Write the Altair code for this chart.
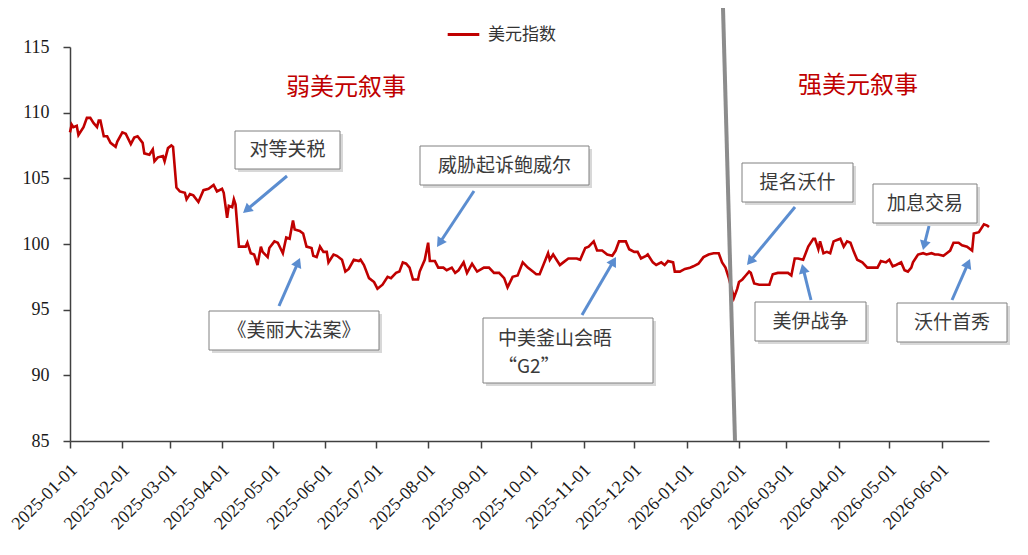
import math
import altair as alt
import pandas as pd

# ---------------- data ----------------
series_name = "美元指数"

dates = [
    "2025-01-01", "2025-01-02", "2025-01-03", "2025-01-05", "2025-01-06", "2025-01-09",
    "2025-01-11", "2025-01-13", "2025-01-15", "2025-01-17", "2025-01-18", "2025-01-19",
    "2025-01-21", "2025-01-23", "2025-01-25", "2025-01-28", "2025-01-29", "2025-02-01",
    "2025-02-03", "2025-02-06", "2025-02-08", "2025-02-10", "2025-02-13", "2025-02-14",
    "2025-02-17", "2025-02-19", "2025-02-20", "2025-02-22", "2025-02-25", "2025-02-26",
    "2025-02-28", "2025-03-02", "2025-03-03", "2025-03-05", "2025-03-07", "2025-03-10",
    "2025-03-11", "2025-03-13", "2025-03-15", "2025-03-18", "2025-03-21", "2025-03-24",
    "2025-03-27", "2025-03-29", "2025-04-01", "2025-04-02", "2025-04-04", "2025-04-05",
    "2025-04-07", "2025-04-08", "2025-04-09", "2025-04-11", "2025-04-15", "2025-04-16",
    "2025-04-18", "2025-04-20", "2025-04-22", "2025-04-24", "2025-04-25", "2025-04-28",
    "2025-04-29", "2025-05-02", "2025-05-04", "2025-05-07", "2025-05-09", "2025-05-11",
    "2025-05-13", "2025-05-14", "2025-05-17", "2025-05-19", "2025-05-21", "2025-05-24",
    "2025-05-25", "2025-05-27", "2025-05-29", "2025-05-31", "2025-06-02", "2025-06-03",
    "2025-06-06", "2025-06-08", "2025-06-11", "2025-06-13", "2025-06-15", "2025-06-18",
    "2025-06-21", "2025-06-22", "2025-06-24", "2025-06-27", "2025-06-30", "2025-07-02",
    "2025-07-05", "2025-07-08", "2025-07-10", "2025-07-13", "2025-07-15", "2025-07-17",
    "2025-07-19", "2025-07-21", "2025-07-23", "2025-07-26", "2025-07-27", "2025-07-30",
    "2025-08-01", "2025-08-02", "2025-08-05", "2025-08-07", "2025-08-10", "2025-08-12",
    "2025-08-15", "2025-08-17", "2025-08-19", "2025-08-22", "2025-08-24", "2025-08-27",
    "2025-08-30", "2025-09-03", "2025-09-06", "2025-09-09", "2025-09-12", "2025-09-15",
    "2025-09-17", "2025-09-20", "2025-09-23", "2025-09-26", "2025-09-29", "2025-10-02",
    "2025-10-04", "2025-10-06", "2025-10-11", "2025-10-12", "2025-10-14", "2025-10-18",
    "2025-10-20", "2025-10-23", "2025-10-28", "2025-10-30", "2025-11-02", "2025-11-04",
    "2025-11-07", "2025-11-09", "2025-11-12", "2025-11-15", "2025-11-18", "2025-11-20",
    "2025-11-22", "2025-11-26", "2025-11-28", "2025-12-01", "2025-12-03", "2025-12-05",
    "2025-12-08", "2025-12-09", "2025-12-12", "2025-12-14", "2025-12-17", "2025-12-19",
    "2025-12-21", "2025-12-24", "2025-12-25", "2025-12-28", "2025-12-31", "2026-01-03",
    "2026-01-05", "2026-01-08", "2026-01-11", "2026-01-14", "2026-01-17", "2026-01-20",
    "2026-01-22", "2026-01-24", "2026-01-26", "2026-01-29", "2026-01-31", "2026-02-01",
    "2026-02-03", "2026-02-05", "2026-02-07", "2026-02-08", "2026-02-10", "2026-02-13",
    "2026-02-16", "2026-02-19", "2026-02-21", "2026-02-24", "2026-02-27", "2026-03-02",
    "2026-03-04", "2026-03-06", "2026-03-08", "2026-03-11", "2026-03-14", "2026-03-17",
    "2026-03-18", "2026-03-20", "2026-03-21", "2026-03-23", "2026-03-25", "2026-03-27",
    "2026-03-29", "2026-03-31", "2026-04-02", "2026-04-04", "2026-04-06", "2026-04-08",
    "2026-04-10", "2026-04-12", "2026-04-15", "2026-04-18", "2026-04-21", "2026-04-24",
    "2026-04-26", "2026-04-29", "2026-05-01", "2026-05-03", "2026-05-05", "2026-05-08",
    "2026-05-10", "2026-05-12", "2026-05-14", "2026-05-15", "2026-05-18", "2026-05-21",
    "2026-05-23", "2026-05-26", "2026-05-28", "2026-05-30", "2026-06-02", "2026-06-04",
    "2026-06-06", "2026-06-08", "2026-06-11", "2026-06-13", "2026-06-16", "2026-06-19",
    "2026-06-20", "2026-06-23", "2026-06-26", "2026-06-28", "2026-06-29",
]

dxy = [
    108.5, 109.1, 108.9, 109.0, 108.3, 108.9,
    109.6, 109.6, 109.2, 108.9, 109.4, 109.4,
    108.2, 108.2, 107.7, 107.4, 107.8, 108.5,
    108.4, 107.6, 108.1, 108.2, 107.7, 106.9,
    106.8, 107.2, 106.3, 106.6, 106.7, 106.3,
    107.3, 107.5, 107.4, 104.3, 104.0, 103.9,
    103.4, 103.8, 103.7, 103.2, 104.1, 104.2,
    104.5, 104.0, 104.2, 103.9, 102.0, 102.9,
    102.8, 103.4, 103.0, 99.8, 99.8, 100.1,
    99.3, 99.2, 98.4, 99.8, 99.4, 99.0,
    99.7, 100.2, 100.1, 99.3, 100.5, 100.4,
    101.8, 101.1, 101.0, 100.8, 99.8, 99.7,
    99.1, 99.0, 99.8, 99.4, 99.4, 98.6,
    99.2, 99.1, 98.8, 97.9, 98.1, 98.8,
    98.7, 98.8, 98.4, 97.4, 97.1, 96.6,
    96.9, 97.5, 97.4, 97.8, 97.9, 98.6,
    98.5, 98.2, 97.3, 97.3, 97.9, 98.8,
    100.1, 98.7, 98.7, 98.2, 98.2, 98.0,
    98.2, 97.8, 98.0, 98.6, 97.8, 98.5,
    97.9, 98.2, 98.2, 97.8, 97.8, 97.4,
    96.7, 97.5, 97.6, 98.6, 98.2, 97.9,
    97.7, 97.7, 99.3, 98.8, 99.2, 98.4,
    98.6, 98.9, 98.9, 98.8, 99.7, 99.8,
    100.2, 99.5, 99.5, 99.2, 99.1, 99.5,
    100.2, 100.2, 99.6, 99.4, 99.4, 98.9,
    99.1, 99.2, 98.6, 98.4, 98.6, 98.4,
    98.7, 98.6, 97.9, 97.9, 98.1, 98.2,
    98.3, 98.5, 99.0, 99.2, 99.3, 99.3,
    98.6, 98.2, 97.4, 95.9, 96.6, 97.1,
    97.3, 97.6, 97.9, 97.8, 97.0, 96.9,
    96.9, 96.9, 97.7, 97.8, 97.8, 97.8,
    97.6, 98.9, 98.9, 98.8, 99.8, 100.4,
    100.4, 99.6, 100.2, 99.3, 99.4, 99.3,
    100.2, 100.3, 100.4, 99.8, 100.2, 100.1,
    99.4, 98.8, 98.6, 98.2, 98.2, 98.2,
    98.7, 98.6, 98.8, 98.3, 98.4, 98.6,
    98.0, 97.9, 98.2, 98.6, 99.2, 99.3,
    99.2, 99.3, 99.2, 99.2, 99.1, 99.3,
    99.5, 100.1, 100.1, 99.9, 99.8, 99.5,
    100.8, 100.9, 101.5, 101.4, 101.3,
]

tick_labels = [
    "2025-01-01", "2025-02-01", "2025-03-01", "2025-04-01", "2025-05-01", "2025-06-01",
    "2025-07-01", "2025-08-01", "2025-09-01", "2025-10-01", "2025-11-01", "2025-12-01",
    "2026-01-01", "2026-02-01", "2026-03-01", "2026-04-01", "2026-05-01", "2026-06-01",
]
x_domain = ["2025-01-01", "2026-06-29"]
y_ticks = [85, 90, 95, 100, 105, 110, 115]
y_domain = [85, 115]

narratives = ["弱美元叙事", "强美元叙事"]
events = ["对等关税", "《美丽大法案》", "威胁起诉鲍威尔", "中美釜山会晤\n“G2”",
          "提名沃什", "美伊战争", "加息交易", "沃什首秀"]

# ---------------- layout (pixels, page coordinates) ----------------
OX, OY = 70, 47          # plot origin on page
W, H = 919, 394

RED = "#C00000"
ARROW = "#5B8DD0"
CJK = "Noto Sans CJK SC"
SERIF = "Liberation Serif"

# box (x0, y0, x1, y1), text anchor, align, arrow tail, arrow head
event_layout = [
    ((235, 131, 340, 169), (287.5, 150), "center", (287, 176), (243, 213)),
    ((209, 311, 379, 350), (294, 330.5), "center", (279, 306), (300, 258)),
    ((420, 146, 589, 185), (504.5, 165.5), "center", (474, 191), (437, 247)),
    ((483, 318, 653, 383), (498, 339), "left", (582, 315), (616, 257)),
    ((742, 163, 853, 202), (797.5, 182.5), "center", (795, 207), (747, 265)),
    ((755, 302, 866, 341), (810.5, 321.5), "center", (811, 300), (802, 264)),
    ((873, 184, 977, 223), (925, 203.5), "center", (929, 226), (923, 250)),
    ((897, 303, 1007, 342), (952, 322.5), "center", (952, 300), (970, 259)),
]
narrative_layout = [(346, 88), (858, 86)]


def px(v):
    return v - OX


def py(v):
    return v - OY


def to_dt(s):
    y, m, d = (int(p) for p in s.split("-"))
    return alt.DateTime(year=y, month=m, date=d, utc=True)


# ---------------- main line ----------------
df = pd.DataFrame({"date": dates, "value": dxy, "series": series_name})

line = alt.Chart(df).mark_line(strokeWidth=2.6, interpolate="linear").encode(
    x=alt.X(
        "date:T",
        scale=alt.Scale(type="utc", domain=[to_dt(s) for s in x_domain]),
        axis=alt.Axis(
            values=[to_dt(s) for s in tick_labels],
            labelExpr="utcFormat(datum.value, '%Y-%m-%d')",
            labelAngle=-45,
            labelAlign="right",
            labelBaseline="middle",
            labelFont=SERIF,
            labelFontSize=18,
            labelColor="#1a1a1a",
            labelPadding=19,
            labelOffset=4,
            labelOverlap=False,
            labelFlush=False,
            tickSize=7,
            tickColor="#404040",
            tickWidth=1.5,
            domainColor="#404040",
            domainWidth=1.5,
            grid=False,
            title=None,
        ),
    ),
    y=alt.Y(
        "value:Q",
        scale=alt.Scale(domain=y_domain, nice=False, zero=False),
        axis=alt.Axis(
            values=y_ticks,
            labelFont=SERIF,
            labelFontSize=18,
            labelColor="#1a1a1a",
            labelPadding=14,
            tickSize=7,
            tickColor="#404040",
            tickWidth=1.5,
            domainColor="#404040",
            domainWidth=1.5,
            grid=False,
            title=None,
        ),
    ),
    color=alt.Color(
        "series:N",
        scale=alt.Scale(domain=[series_name], range=[RED]),
        legend=alt.Legend(
            title=None,
            orient="none",
            legendX=px(446),
            legendY=py(33) - 16,
            symbolType="stroke",
            symbolStrokeWidth=3,
            symbolSize=1000,
            labelFont=CJK,
            labelFontSize=17,
            labelColor="#333333",
            labelOffset=7,
            padding=0,
        ),
    ),
)

base = alt.Chart(pd.DataFrame({"k": [0]}))
layers = [line]

# divider between the two narratives
layers.append(
    base.mark_rule(color="#8c8c8c", strokeWidth=4).encode(
        x=alt.value(px(723)), x2=alt.value(px(735)),
        y=alt.value(py(8)), y2=alt.value(py(441)),
    )
)

# arrows
for box, anchor, align, tail, head in event_layout:
    tx, ty = px(tail[0]), py(tail[1])
    hx, hy = px(head[0]), py(head[1])
    dx, dy = hx - tx, hy - ty
    L = math.hypot(dx, dy)
    ux, uy = dx / L, dy / L
    size = 120
    r = math.sqrt(size) / 2
    h = math.sqrt(3) / 2 * r
    cx, cy = hx - ux * h, hy - uy * h
    ang = math.degrees(math.atan2(dx, -dy)) % 360
    layers.append(
        base.mark_rule(color=ARROW, strokeWidth=3).encode(
            x=alt.value(tx), y=alt.value(ty), x2=alt.value(cx), y2=alt.value(cy)
        )
    )
    layers.append(
        base.mark_point(shape="triangle-up", filled=True, size=size, angle=ang,
                        color=ARROW, opacity=1, strokeWidth=0).encode(
            x=alt.value(cx), y=alt.value(cy)
        )
    )

# boxes with texts
for (box, anchor, align, tail, head), label in zip(event_layout, events):
    x0, y0, x1, y1 = box
    layers.append(
        base.mark_rect(color="#c8c8c8", opacity=0.7).encode(
            x=alt.value(px(x0) + 3), x2=alt.value(px(x1) + 3),
            y=alt.value(py(y0) + 3), y2=alt.value(py(y1) + 3),
        )
    )
    layers.append(
        base.mark_rect(fill="white", stroke="#808080", strokeWidth=1).encode(
            x=alt.value(px(x0)), x2=alt.value(px(x1)),
            y=alt.value(py(y0)), y2=alt.value(py(y1)),
        )
    )
    layers.append(
        base.mark_text(font=CJK, fontSize=19, color="#3a3a3a", align=align,
                       baseline="middle", lineBreak="\n", lineHeight=28).encode(
            x=alt.value(px(anchor[0])), y=alt.value(py(anchor[1])),
            text=alt.value(label),
        )
    )

# narrative titles
for label, (nx, ny) in zip(narratives, narrative_layout):
    layers.append(
        base.mark_text(font=CJK, fontSize=24, color=RED, align="center",
                       baseline="middle").encode(
            x=alt.value(px(nx)), y=alt.value(py(ny)), text=alt.value(label)
        )
    )

chart = alt.layer(*layers).properties(
    width=W,
    height=H,
    autosize=alt.AutoSizeParams(type="none"),
    padding={"left": OX - 8, "top": OY - 8, "right": 30, "bottom": 100},
    background="white",
).configure_view(strokeWidth=0)

chart.save("out.html", embed_options={"renderer": "svg", "actions": False})
